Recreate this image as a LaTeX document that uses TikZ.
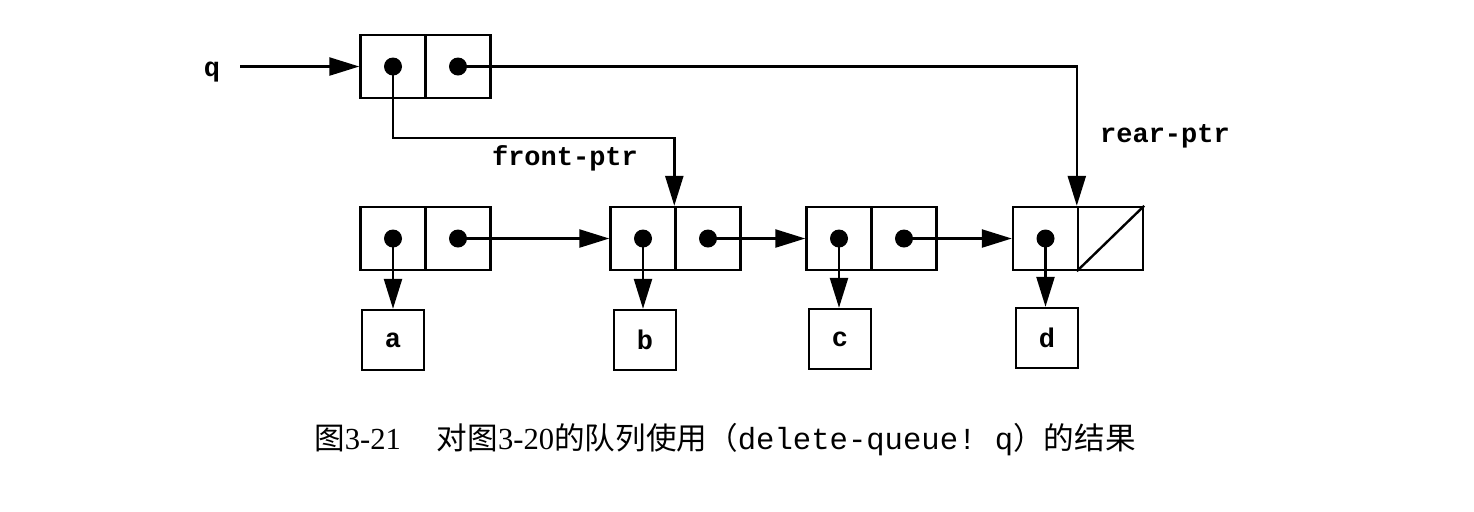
\documentclass[tikz,border=0pt]{standalone}
\usepackage{fontspec}
\setmainfont{Liberation Serif}
\setmonofont{Liberation Mono}
\newfontfamily\cjk{Noto Sans CJK SC}
\usetikzlibrary{arrows.meta}
\begin{document}
\begin{tikzpicture}[x=0.5pt,y=-0.5pt,
  cell/.style={draw,line width=1.2pt,minimum width=32.5pt,minimum height=31.5pt,inner sep=0pt},
  val/.style={draw,line width=1.2pt,minimum width=31pt,minimum height=30pt,inner sep=0pt,font=\fontsize{13.5}{15}\ttfamily\bfseries},
  lbl/.style={font=\fontsize{13.5}{15}\ttfamily\bfseries,inner sep=1pt},
  ptr/.style={line width=1.2pt,-{Triangle[length=15pt,width=9pt]}},
  dot/.style={circle,fill=black,inner sep=0pt,minimum size=9pt}]
\useasboundingbox (0,0) rectangle (1474,511);
% top pair
\node[cell] (tl) at (393,66.5) {};
\node[cell] (tr) at (458,66.5) {};
% bottom pairs
\node[cell] (p1l) at (393,238.5) {};
\node[cell] (p1r) at (458,238.5) {};
\node[cell] (p2l) at (643,238.5) {};
\node[cell] (p2r) at (708,238.5) {};
\node[cell] (p3l) at (839,238.5) {};
\node[cell] (p3r) at (904,238.5) {};
\node[cell] (p4l) at (1045.5,238.5) {};
\node[cell] (p4r) at (1110.5,238.5) {};
\draw[line width=1.2pt] (p4r.south west) -- (p4r.north east);
% dots
\foreach \n in {tl,tr,p1l,p1r,p2l,p2r,p3l,p3r,p4l} \node[dot] at (\n.center) {};
% value boxes
\node[val] (a) at (393,340) {a};
\node[val] (b) at (645,340) {b};
\node[val] (c) at (840,339) {c};
\node[val] (d) at (1047,338) {d};
% labels
\node[lbl] (q) at (212,72) {q};
\node[lbl] (fl) at (565,158) {front-ptr};
\node[lbl] (rl) at (1165,136) {rear-ptr};
% connectors
\coordinate (qs) at (240,66.5);
\draw[ptr] (qs) -- (tl.west);
\draw[ptr] (tr.center) -| (p4r.north west);
\draw[ptr] (tl.center) -- ++(0,71.5) -| (p2r.north west);
\draw[ptr] (p1r.center) -- (p2l.west);
\draw[ptr] (p2r.center) -- (p3l.west);
\draw[ptr] (p3r.center) -- (p4l.west);
\draw[ptr] (p1l.center) -- (p1l.center |- a.north);
\draw[ptr] (p2l.center) -- (p2l.center |- b.north);
\draw[ptr] (p3l.center) -- (p3l.center |- c.north);
\draw[ptr] (p4l.center) -- (p4l.center |- d.north);
% caption
\node[font=\fontsize{15.3}{17}\selectfont,inner sep=0pt] (cap) at (725,440)
  {{\cjk 图}3-21\hspace{18pt}{\cjk 对图}3-20{\cjk 的队列使用（}{\ttfamily delete-queue! q}{\cjk ）的结果}};
\end{tikzpicture}
\end{document}
